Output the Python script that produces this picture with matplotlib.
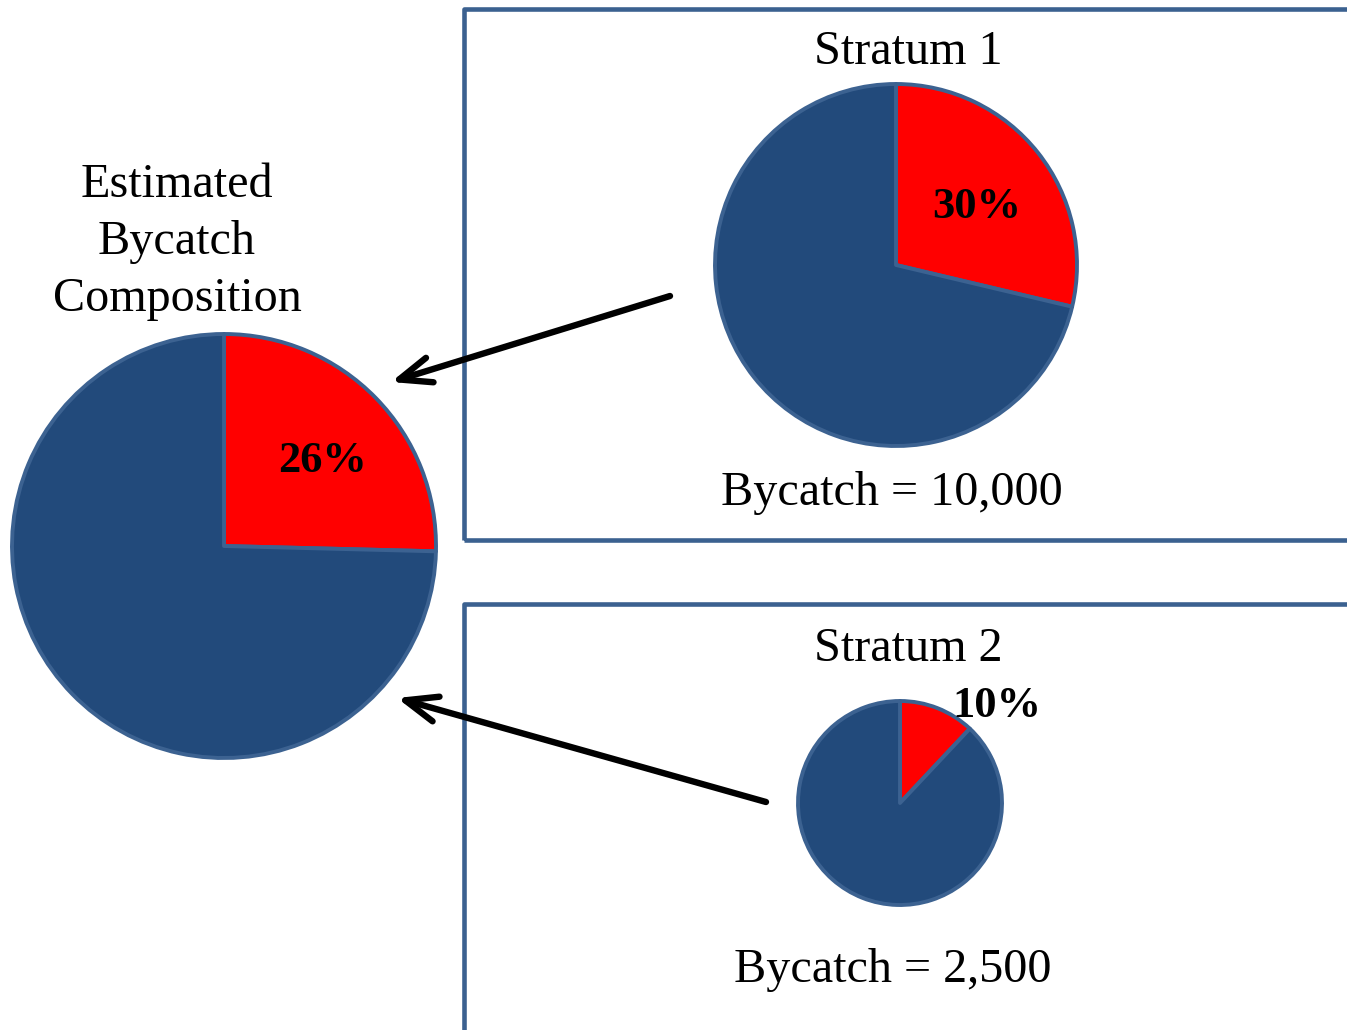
import matplotlib
matplotlib.use("Agg")
import matplotlib.pyplot as plt
from matplotlib.patches import Rectangle

# ---- data ----
strata = ["Stratum 1", "Stratum 2"]
bycatch_total = [10000, 2500]
bycatch_label = [30, 10]            # % labels printed on the stratum pies
composite_label = 26                # % label printed on the composite pie
# wedge sizes as actually drawn in the picture (%)
stratum_wedge = [28.7, 12.0]
composite_wedge = 25.4
composite_title = "Estimated\nBycatch\nComposition"

RED = "#FF0000"
BLUE = "#224A7B"
EDGE = "#3C6291"
BOX = "#3B6190"
FONT = "Liberation Serif"

W, H = 1347, 1030
fig = plt.figure(figsize=(W / 100, H / 100), dpi=100)
ax = fig.add_axes([0, 0, 1, 1])

def Y(y):  # pixel-from-top to data y
    return H - y

# boxes
for top, bottom in [(9, 540), (604, 1100)]:
    ax.add_patch(Rectangle((464, Y(bottom)), 1000, bottom - top, fill=False,
                           edgecolor=BOX, linewidth=3.3, joinstyle="round", zorder=1))

def draw_pie(share, cx, cy, r):
    ax.pie([share, 100 - share], colors=[RED, BLUE], startangle=90, counterclock=False,
           center=(cx, Y(cy)), radius=r,
           wedgeprops=dict(edgecolor=EDGE, linewidth=2.8, joinstyle="round"))

draw_pie(stratum_wedge[0], 896, 265, 181)
draw_pie(stratum_wedge[1], 900, 803, 102)
draw_pie(composite_wedge, 224, 546, 212)

bold = dict(family=FONT, fontsize=32, fontweight="bold", ha="center", va="center", color="black")
ax.text(977, Y(207), f"{bycatch_label[0]}%", **bold)
ax.text(997, Y(706), f"{bycatch_label[1]}%", **bold)
ax.text(323, Y(461), f"{composite_label}%", **bold)

reg = dict(family=FONT, fontsize=34.7, ha="center", va="center", color="black")
ax.text(908, Y(52), strata[0], **reg)
ax.text(892, Y(493), f"Bycatch = {bycatch_total[0]:,}", **reg)
ax.text(908, Y(649), strata[1], **reg)
ax.text(893, Y(970), f"Bycatch = {bycatch_total[1]:,}", **reg)
ax.text(177, Y(242), composite_title, linespacing=1.38, **reg)

arrow = dict(arrowstyle="->,head_length=0.5,head_width=0.2", lw=4.6, color="black",
             mutation_scale=46, shrinkA=0, shrinkB=0, capstyle="round", joinstyle="round")
ax.annotate("", xy=(391, Y(382)), xytext=(670, Y(296)), arrowprops=arrow)
ax.annotate("", xy=(397, Y(698)), xytext=(766, Y(802)), arrowprops=arrow)

ax.set_xlim(0, W)
ax.set_ylim(0, H)
ax.set_aspect("auto")
ax.axis("off")
fig.savefig("out.png", dpi=100)
